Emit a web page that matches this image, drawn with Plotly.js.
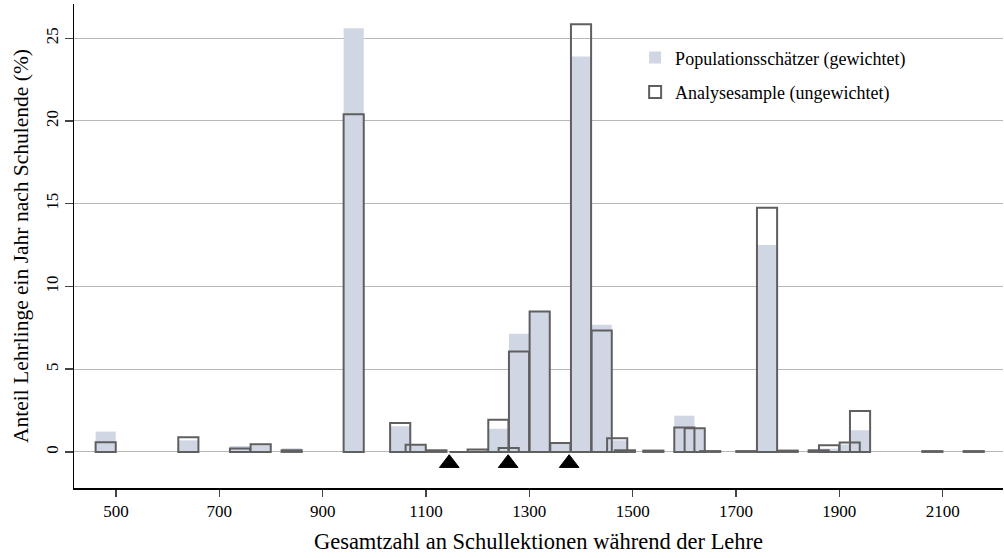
<!DOCTYPE html>
<html>
<head>
<meta charset="utf-8">
<script src="https://cdn.plot.ly/plotly-3.0.1.min.js"></script>
<style>html,body{margin:0;padding:0;background:#fff;}#chart{width:1004px;height:558px;}</style>
</head>
<body>
<div id="chart"></div>
<script>
// Bar positions (total school lessons) and shares (%)
const lessons = [480, 640, 740, 780, 840, 960, 1050, 1080, 1120, 1165, 1200, 1240, 1260, 1280, 1320, 1360, 1400, 1440, 1470, 1485, 1540, 1600, 1620, 1650, 1720, 1760, 1800, 1860, 1880, 1920, 1940, 2080, 2160];
const populationWeighted = [1.23, 0.70, 0.36, 0.40, 0.22, 25.6, 1.55, 0.40, 0.10, 0.05, 0.10, 1.40, 0.20, 7.14, 8.45, 0.50, 23.9, 7.69, 0.70, 0.10, 0.08, 2.19, 1.40, 0.05, 0.05, 12.5, 0.08, 0.10, 0.20, 0.45, 1.31, 0.05, 0.05];
const sampleUnweighted = [0.59, 0.88, 0.20, 0.46, 0.10, 20.4, 1.75, 0.44, 0.10, 0, 0.15, 1.95, 0.24, 6.07, 8.49, 0.54, 25.85, 7.34, 0.82, 0.10, 0.08, 1.47, 1.43, 0.05, 0.05, 14.75, 0.08, 0.10, 0.40, 0.57, 2.48, 0.05, 0.05];
// Triangle markers (thresholds)
const markerX = [1145, 1259, 1377];
const markerY = [-0.68, -0.68, -0.68];

const xTicks = [500, 700, 900, 1100, 1300, 1500, 1700, 1900, 2100];
const yTicks = [0, 5, 10, 15, 20, 25];

const serif = "Liberation Serif, Times New Roman, serif";

const traces = [
  {
    type: 'bar', x: lessons, y: populationWeighted, width: 39,
    name: 'Populationsschätzer (gewichtet)', legendgroup: 'a',
    marker: {color: '#d0d6e3', line: {width: 0}},
    hoverinfo: 'x+y'
  },
  {
    type: 'bar', x: lessons, y: sampleUnweighted, width: 39,
    name: 'Analysesample (ungewichtet)', legendgroup: 'b',
    marker: {color: 'rgba(0,0,0,0)', line: {width: 2, color: '#5f5f5f'}},
    hoverinfo: 'x+y'
  },
  {
    type: 'scatter', mode: 'markers', x: markerX, y: markerY,
    marker: {symbol: 'triangle-up', size: 17, color: '#000', line: {width: 1, color: '#000'}},
    showlegend: false, cliponaxis: false, hoverinfo: 'x'
  }
];

const layout = {
  width: 1004, height: 558,
  margin: {l: 74, r: 1, t: 4, b: 70},
  barmode: 'overlay',
  paper_bgcolor: '#fff', plot_bgcolor: '#fff',
  font: {family: serif, color: '#000', size: 17},
  showlegend: true,
  legend: {
    x: 0.604, y: 0.927, xanchor: 'left', yanchor: 'top',
    font: {family: serif, size: 18, color: '#000'},
    bgcolor: 'rgba(0,0,0,0)', traceorder: 'grouped', tracegroupgap: 8
  },
  xaxis: {
    range: [418.7, 2216.7], tickvals: xTicks, ticktext: xTicks.map(String),
    showgrid: false, zeroline: false,
    showline: true, linecolor: '#000', linewidth: 1.5,
    ticks: 'outside', ticklen: 7, tickwidth: 1.5, tickcolor: '#444',
    tickfont: {family: serif, size: 17},
    title: {text: 'Gesamtzahl an Schullektionen während der Lehre', font: {family: serif, size: 22.5}, standoff: 13}
  },
  yaxis: {
    range: [-2.18, 27.07], tickvals: yTicks, ticktext: yTicks.map(String),
    showgrid: true, gridcolor: '#b8b8b8', gridwidth: 1,
    zeroline: false,
    showline: true, linecolor: '#000', linewidth: 1.5,
    ticks: 'outside', ticklen: 8, tickwidth: 1.5, tickcolor: '#444',
    tickangle: -90,
    tickfont: {family: serif, size: 17},
    title: {text: 'Anteil Lehrlinge ein Jahr nach Schulende (%)', font: {family: serif, size: 21.5}, standoff: 8}
  }
};

Plotly.newPlot('chart', traces, layout, {displayModeBar: false, staticPlot: true});
</script>
</body>
</html>
